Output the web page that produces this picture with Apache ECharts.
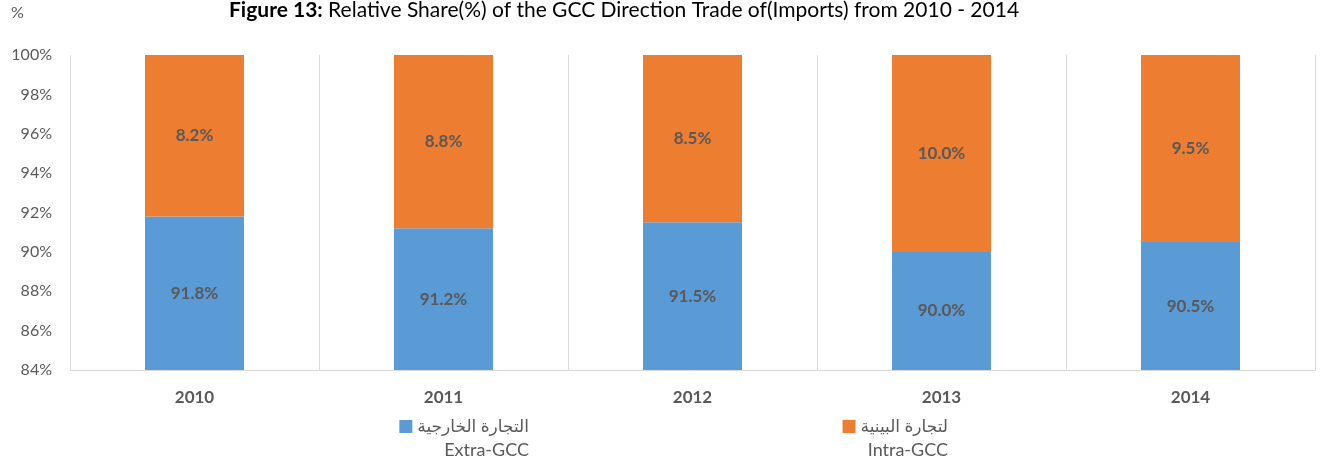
<!DOCTYPE html>
<html>
<head>
<meta charset="utf-8">
<script src="https://cdn.jsdelivr.net/npm/echarts@6/dist/echarts.min.js"></script>
<style>
  html, body { margin: 0; padding: 0; background: #fff; }
  #chart { width: 1321px; height: 463px; }
</style>
</head>
<body>
<div id="chart"></div>
<script>
// data
const years = ['2010', '2011', '2012', '2013', '2014'];
const extraGcc = [91.8, 91.2, 91.5, 90.0, 90.5];
const intraGcc = [8.2, 8.8, 8.5, 10.0, 9.5];
const seriesNames = ['التجارة الخارجية', 'لتجارة البينية'];
const seriesNamesEn = ['Extra-GCC', 'Intra-GCC'];

const FONT = 'Lato, "DejaVu Sans", sans-serif';
const GREY = '#595959';

const chart = echarts.init(document.getElementById('chart'), null, { renderer: 'canvas' });

const labelStyle = {
  show: true,
  position: 'inside',
  color: GREY,
  fontFamily: FONT,
  fontWeight: 'bold',
  fontSize: 17,
  formatter: p => p.value.toFixed(1) + '%'
};

const legendBase = {
  top: 413,
  itemWidth: 13,
  itemHeight: 13,
  itemGap: 0,
  icon: 'rect',
  textStyle: { color: GREY, fontFamily: FONT, fontSize: 17 }
};

chart.setOption({
  animation: false,
  title: {
    text: '{b|Figure 13:} Relative Share(%) of the GCC Direction Trade of(Imports) from 2010 - 2014',
    left: 229,
    top: 0,
    padding: 0,
    textStyle: {
      color: '#000',
      fontFamily: FONT,
      fontSize: 21,
      fontWeight: 'normal',
      rich: { b: { fontFamily: FONT, fontSize: 21, fontWeight: 'bold', color: '#000' } }
    }
  },
  legend: [
    Object.assign({}, legendBase, { data: [seriesNames[0]], right: 1321 - 534 }),
    Object.assign({}, legendBase, { data: [seriesNames[1]], right: 1321 - 953 })
  ],
  graphic: [
    {
      type: 'text', right: 1321 - 529, top: 441,
      style: { text: seriesNamesEn[0], fill: GREY, font: '18px ' + FONT }
    },
    {
      type: 'text', right: 1321 - 948, top: 441,
      style: { text: seriesNamesEn[1], fill: GREY, font: '18px ' + FONT }
    },
    {
      type: 'text', left: 11, top: 5,
      style: { text: '%', fill: GREY, font: '16px ' + FONT }
    }
  ],
  grid: { left: 70, right: 6, top: 55, bottom: 93 },
  xAxis: {
    type: 'category',
    data: years,
    axisTick: { show: false },
    axisLine: { lineStyle: { color: '#d9d9d9' } },
    splitLine: { show: true, lineStyle: { color: '#d9d9d9' } },
    axisLabel: {
      color: GREY, fontFamily: FONT, fontWeight: 'bold', fontSize: 17, margin: 19
    }
  },
  yAxis: {
    type: 'value',
    min: 84,
    max: 100,
    interval: 2,
    splitLine: { show: false },
    axisLine: { show: false },
    axisTick: { show: false },
    axisLabel: {
      color: GREY, fontFamily: FONT, fontSize: 16, margin: 18,
      formatter: v => v + '%'
    }
  },
  series: [
    {
      name: seriesNames[0],
      type: 'bar',
      stack: 'total',
      data: extraGcc,
      barWidth: 99,
      itemStyle: { color: '#5b9bd5' },
      label: labelStyle
    },
    {
      name: seriesNames[1],
      type: 'bar',
      stack: 'total',
      data: intraGcc,
      barWidth: 99,
      itemStyle: { color: '#ed7d31' },
      label: labelStyle
    }
  ]
});
</script>
</body>
</html>
